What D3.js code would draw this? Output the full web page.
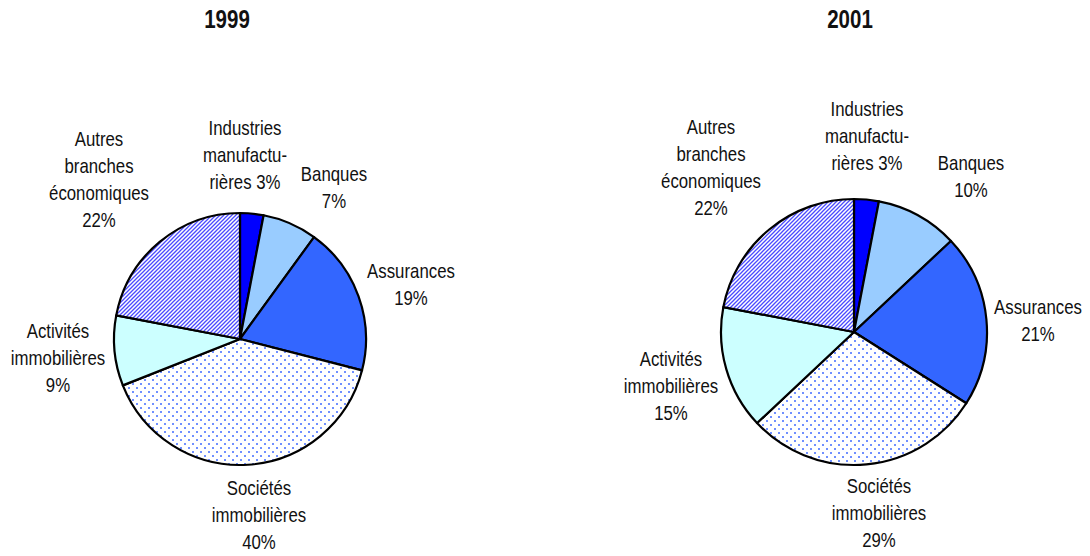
<!DOCTYPE html>
<html>
<head>
<meta charset="utf-8">
<script src="https://cdn.jsdelivr.net/npm/d3@7"></script>
<style>
  body { margin: 0; background: #fff; }
  text { font-family: "Liberation Sans", Arial, sans-serif; fill: #111; }
</style>
</head>
<body>
<div id="container"></div>
<script>
// categories, in clockwise order from 12 o'clock
const categories = ["Industries manufacturières", "Banques", "Assurances",
  "Sociétés immobilières", "Activités immobilières", "Autres branches économiques"];
const labelLines = [
  ["Industries", "manufactu-", "rières"],
  ["Banques"],
  ["Assurances"],
  ["Sociétés", "immobilières"],
  ["Activités", "immobilières"],
  ["Autres", "branches", "économiques"]
];
const years = ["1999", "2001"];
const values1999 = [3, 7, 19, 40, 9, 22];
const values2001 = [3, 10, 21, 29, 15, 22];

const fills = ["#0000FF", "#99CCFF", "#3366FF", "url(#dots)", "#CCFFFF", "url(#stripes)"];

// layout: pie centre/radius and label block offsets from the centre
const pies = [
  { year: years[0], values: values1999, cx: 240, cy: 339, r: 126, titleX: 227,
    labelOff: [[5, -184], [94, -152], [171, -55], [19, 176], [-182, 19], [-141, -160]] },
  { year: years[1], values: values2001, cx: 854, cy: 332, r: 133, titleX: 850,
    labelOff: [[13, -196], [117, -156], [184, -12], [25, 181], [-183, 54], [-143, -165]] }
];

const width = 1090, height = 556;
const lineH = 27;
const narrow = 0.82; // squeeze Liberation Sans to look like Arial Narrow

const svg = d3.select('#container').append('svg')
  .attr('width', width)
  .attr('height', height);

const defs = svg.append('defs');

// diagonal stripes
const stripes = defs.append('pattern')
  .attr('id', 'stripes')
  .attr('patternUnits', 'userSpaceOnUse')
  .attr('width', 4).attr('height', 4);
stripes.append('rect').attr('width', 4).attr('height', 4).attr('fill', '#fff');
stripes.append('path')
  .attr('d', 'M-1,1 l2,-2 M0,4 l4,-4 M3,5 l2,-2')
  .attr('stroke', '#4A4AFF').attr('stroke-width', 1.3);

// staggered dots
const dots = defs.append('pattern')
  .attr('id', 'dots')
  .attr('patternUnits', 'userSpaceOnUse')
  .attr('width', 8).attr('height', 8);
dots.append('rect').attr('width', 8).attr('height', 8).attr('fill', '#fff');
dots.append('rect').attr('x', 0).attr('y', 0).attr('width', 2).attr('height', 2).attr('fill', '#7090FF');
dots.append('rect').attr('x', 4).attr('y', 4).attr('width', 2).attr('height', 2).attr('fill', '#7090FF');

const pie = d3.pie().sort(null).value(d => d);

pies.forEach(p => {
  const g = svg.append('g').attr('transform', `translate(${p.cx},${p.cy})`);
  const arc = d3.arc().innerRadius(0).outerRadius(p.r);
  const arcs = pie(p.values);

  g.selectAll('path')
    .data(arcs)
    .enter()
    .append('path')
    .attr('d', arc)
    .attr('fill', (d, i) => fills[i])
    .attr('stroke', '#000')
    .attr('stroke-width', 2.2)
    .attr('stroke-linejoin', 'round');

  // labels
  arcs.forEach((d, i) => {
    const lines = labelLines[i].slice();
    const pct = d.data + '%';
    if (i === 0) lines[lines.length - 1] += ' ' + pct;
    else lines.push(pct);
    const [dx, dy] = p.labelOff[i];
    const y0 = dy - (lines.length - 1) * lineH / 2;
    const t = g.append('g')
      .attr('transform', `translate(${dx},0) scale(${narrow},1)`)
      .append('text')
      .attr('text-anchor', 'middle')
      .attr('font-size', 20.5);
    lines.forEach((l, k) => {
      t.append('tspan')
        .attr('x', 0)
        .attr('y', y0 + k * lineH)
        .attr('dy', '0.35em')
        .text(l);
    });
  });

  // title
  svg.append('g')
    .attr('transform', `translate(${p.titleX},28) scale(${narrow},1)`)
    .append('text')
    .attr('text-anchor', 'middle')
    .attr('font-size', 25)
    .attr('font-weight', 'bold')
    .text(p.year);
});
</script>
</body>
</html>
